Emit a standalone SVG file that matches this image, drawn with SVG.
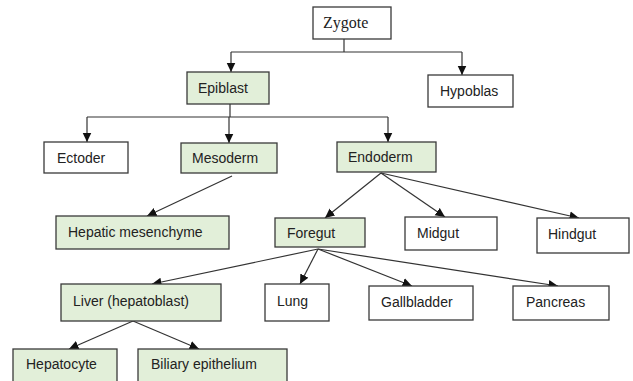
<svg xmlns="http://www.w3.org/2000/svg" width="633" height="381" viewBox="0 0 633 381">
<style>
.b{fill:#fff;stroke:#3a3a3a;stroke-width:1.3}
.g{fill:#e2efd9;stroke:#3a3a3a;stroke-width:1.3}
.t{font-family:"Liberation Sans",Arial,sans-serif;font-size:14px;fill:#222}
.s{font-family:"Liberation Serif","Times New Roman",serif;font-size:16px;fill:#222}
.c path{fill:none;stroke:#333;stroke-width:1.2}
.a{marker-end:url(#ah)}
</style>
<defs>
<marker id="ah" markerUnits="userSpaceOnUse" markerWidth="11" markerHeight="11" refX="9.5" refY="5" orient="auto">
<path d="M0,0.5 L9.5,5 L0,9.5 Z" fill="#111"/>
</marker>
</defs>
<rect width="633" height="381" fill="#fff"/>
<g class="c" id="connectors">
<path d="M344,39 V52"/>
<path d="M231,52 H462"/>
<path class="a" d="M231,52 V72"/>
<path class="a" d="M462,52 V75"/>
<path d="M230,104 V117"/>
<path d="M87,117 H388"/>
<path class="a" d="M87,117 V142"/>
<path class="a" d="M229,117 V143"/>
<path class="a" d="M388,117 V142"/>
<path class="a" d="M232,176 L147,216"/>
<path class="a" d="M381,173 L325,218"/>
<path class="a" d="M381,173 L445,217"/>
<path class="a" d="M381,173 L579,218"/>
<path class="a" d="M318,249 L152,284"/>
<path class="a" d="M318,249 L300,284"/>
<path class="a" d="M318,249 L412,286"/>
<path class="a" d="M318,249 L558,286"/>
<path class="a" d="M133,321 L69,349"/>
<path class="a" d="M133,321 L199,349"/>
</g>
<g id="zygote"><rect class="b" x="313" y="7" width="78" height="32"/><text class="s" x="323" y="28">Zygote</text></g>
<g id="epiblast"><rect class="g" x="187" y="72" width="82" height="32"/><text class="t" x="198" y="93">Epiblast</text></g>
<g id="hypoblas"><rect class="b" x="428" y="75" width="85" height="32"/><text class="t" x="440" y="96">Hypoblas</text></g>
<g id="ectoder"><rect class="b" x="44" y="142" width="84" height="31"/><text class="t" x="57" y="163">Ectoder</text></g>
<g id="mesoderm"><rect class="g" x="181" y="143" width="96" height="30"/><text class="t" x="192" y="163">Mesoderm</text></g>
<g id="endoderm"><rect class="g" x="337" y="142" width="99" height="30"/><text class="t" x="348" y="162">Endoderm</text></g>
<g id="hepatic-mesenchyme"><rect class="g" x="56" y="216" width="173" height="33"/><text class="t" x="68" y="237">Hepatic mesenchyme</text></g>
<g id="foregut"><rect class="g" x="275" y="218" width="90" height="29"/><text class="t" x="287" y="238">Foregut</text></g>
<g id="midgut"><rect class="b" x="405" y="217" width="92" height="33"/><text class="t" x="417" y="238">Midgut</text></g>
<g id="hindgut"><rect class="b" x="537" y="218" width="92" height="35"/><text class="t" x="548" y="239">Hindgut</text></g>
<g id="liver"><rect class="g" x="61" y="284" width="160" height="37"/><text class="t" x="73" y="306">Liver (hepatoblast)</text></g>
<g id="lung"><rect class="b" x="265" y="284" width="64" height="37"/><text class="t" x="277" y="306">Lung</text></g>
<g id="gallbladder"><rect class="b" x="369" y="286" width="104" height="34"/><text class="t" x="381" y="307">Gallbladder</text></g>
<g id="pancreas"><rect class="b" x="513" y="286" width="96" height="34"/><text class="t" x="526" y="307">Pancreas</text></g>
<g id="hepatocyte"><rect class="g" x="13" y="349" width="104" height="40"/><text class="t" x="26" y="369">Hepatocyte</text></g>
<g id="biliary-epithelium"><rect class="g" x="138" y="349" width="149" height="40"/><text class="t" x="151" y="369">Biliary epithelium</text></g>
</svg>
